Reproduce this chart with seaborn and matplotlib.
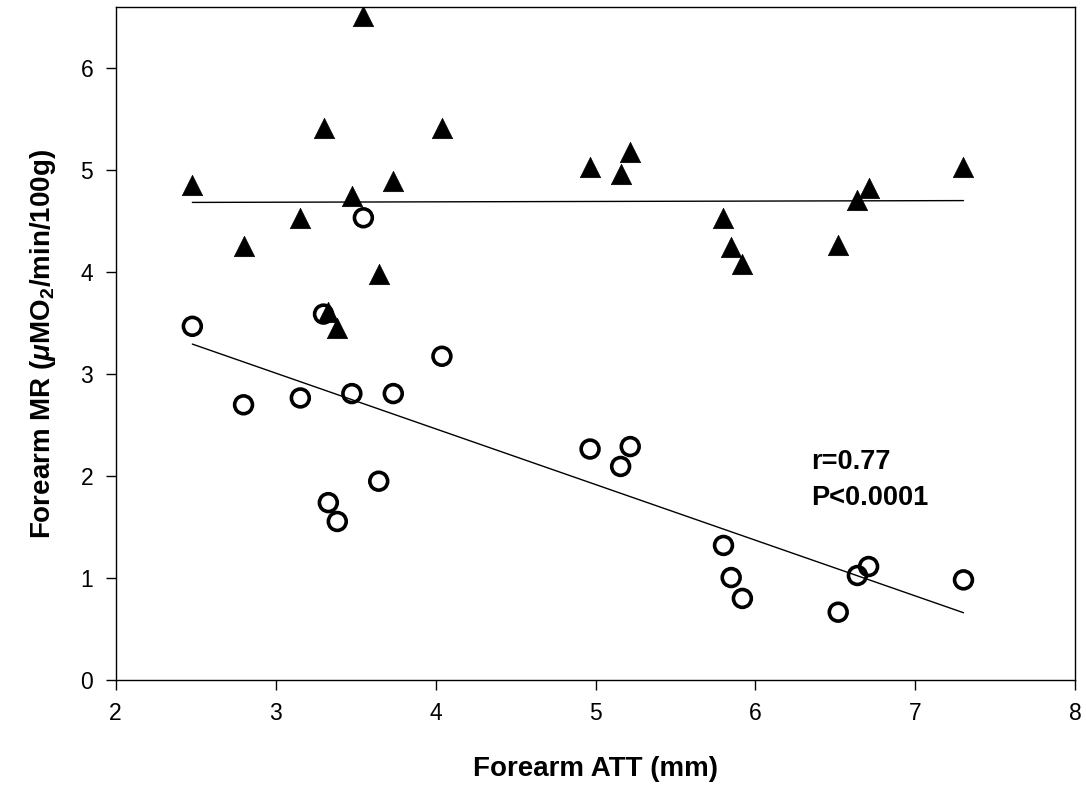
import numpy as np
import pandas as pd
import matplotlib
matplotlib.use("Agg")
import matplotlib.pyplot as plt
import seaborn as sns

# Forearm adipose tissue thickness (mm) per subject
att = [2.48, 2.80, 3.155, 3.30, 3.33, 3.386, 3.477, 3.549, 3.645, 3.736, 4.04,
       4.966, 5.157, 5.217, 5.80, 5.848, 5.918, 6.517, 6.637, 6.707, 7.30]
# Forearm metabolic rate, upper series (filled triangles)
mr_triangle = [4.86, 4.26, 4.53, 5.42, 3.61, 3.45, 4.75, 6.51, 3.98, 4.90, 5.42,
               5.03, 4.96, 5.18, 4.535, 4.25, 4.086, 4.27, 4.705, 4.83, 5.03]
# Forearm metabolic rate, lower series (open circles)
mr_circle = [3.47, 2.70, 2.767, 3.59, 1.74, 1.555, 2.81, 4.535, 1.95, 2.81, 3.176,
             2.266, 2.095, 2.29, 1.32, 1.005, 0.80, 0.665, 1.025, 1.113, 0.982]

x_ticks = [2, 3, 4, 5, 6, 7, 8]
y_ticks = [0, 1, 2, 3, 4, 5, 6]
stats_lines = ["r=0.77", "P<0.0001"]

df = pd.DataFrame({"att": att, "tri": mr_triangle, "circ": mr_circle})

sns.set_style("ticks")
plt.rcParams["font.family"] = ["Liberation Sans", "DejaVu Sans"]
plt.rcParams["text.color"] = "black"
plt.rcParams["axes.labelcolor"] = "black"
plt.rcParams["xtick.color"] = "black"
plt.rcParams["ytick.color"] = "black"
plt.rcParams["mathtext.fontset"] = "custom"
plt.rcParams["mathtext.rm"] = "Liberation Sans:bold"
plt.rcParams["mathtext.bf"] = "Liberation Sans:bold"
plt.rcParams["mathtext.it"] = "Liberation Sans:italic:bold"

fig = plt.figure(figsize=(10.86, 7.95), dpi=100)
ax = fig.add_axes([0.1064, 0.1447, 0.8839, 0.8461])

# regression lines over the data range
sns.regplot(data=df, x="att", y="tri", ax=ax, scatter=False, ci=None,
            truncate=True, line_kws=dict(color="black", lw=1.0))
sns.regplot(data=df, x="att", y="circ", ax=ax, scatter=False, ci=None,
            truncate=True, line_kws=dict(color="black", lw=1.0))

# open circles, then filled triangles on top
sns.scatterplot(data=df, x="att", y="circ", ax=ax, marker="o", s=165,
                facecolor="none", edgecolor="black", linewidth=2.6, zorder=3)
sns.scatterplot(data=df, x="att", y="tri", ax=ax, marker="^", s=215,
                color="black", edgecolor="black", linewidth=0.5, zorder=4)

ax.set_xlim(2, 8)
ax.set_ylim(0, 6.6)
ax.set_xticks(x_ticks)
ax.set_yticks(y_ticks)
ax.tick_params(axis="both", direction="out", length=7, width=1.0,
               labelsize=16.5, pad=9, color="black", labelcolor="black")
for sp in ax.spines.values():
    sp.set_visible(True)
    sp.set_linewidth(1.0)
    sp.set_color("black")

ax.set_xlabel("Forearm ATT (mm)", fontsize=20, fontweight="bold", labelpad=22,
              color="black")
ax.set_ylabel(r"Forearm MR ($\mu$MO$_{\mathrm{2}}$/min/100g)", fontsize=20,
              fontweight="bold", labelpad=16, color="black")

ax.text(6.35, 2.07, stats_lines[0], fontsize=19.5, fontweight="bold",
        ha="left", va="baseline", color="black")
ax.text(6.35, 1.72, stats_lines[1], fontsize=19.5, fontweight="bold",
        ha="left", va="baseline", color="black")

fig.savefig("out.png", dpi=100)
